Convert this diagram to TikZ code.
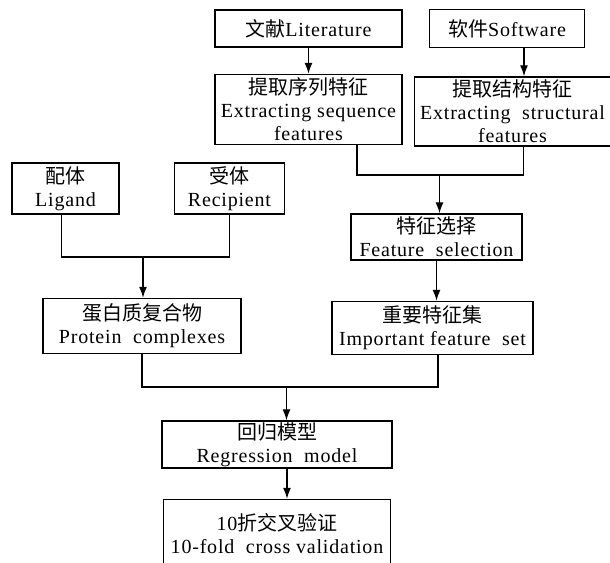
\documentclass[tikz,border=0pt]{standalone}
\usepackage{fontspec}
\setmainfont{Liberation Serif}[LetterSpace=4]
\newfontfamily\cjk{Noto Sans CJK SC}
\usetikzlibrary{positioning}
\usetikzlibrary{arrows.meta}

\begin{document}
\begin{tikzpicture}[x=1pt, y=-1pt, line width=1.2pt,
	>={Latex[length=11pt,width=8pt]},
	box/.style={draw, line width=1.5pt, align=center, inner sep=0pt, font=\fontsize{20}{23}\selectfont}]
	\useasboundingbox (0,0) rectangle (610,562);

	\node[box, minimum width=187pt, minimum height=37pt] (lit) at (308.5,28.5) {{\cjk 文献}Literature};
	\node[box, minimum width=155pt, minimum height=38pt] (soft) [right=26pt of lit] {{\cjk 软件}Software};
	\node[box, minimum width=187pt, minimum height=70pt] (seq) [below=26pt of lit] {{\cjk 提取序列特征}\\Extracting sequence\\features};
	\node[box, minimum width=196pt, minimum height=69pt] (struct) [below=28pt of soft, xshift=5.5pt] {{\cjk 提取结构特征}\\Extracting\ \ structural\\features};
	\node[box, minimum width=171pt, minimum height=46pt] (feat) at (436.5,237) {{\cjk 特征选择}\\Feature\ \ selection};
	\node[box, minimum width=201pt, minimum height=53pt] (imp) [below=40pt of feat, xshift=-4pt] {{\cjk 重要特征集}\\Important feature\ \ set};
	\node[box, minimum width=107pt, minimum height=51pt] (lig) at (65.5,188.5) {{\cjk 配体}\\Ligand};
	\node[box, minimum width=110pt, minimum height=51pt] (rec) [right=54pt of lig] {{\cjk 受体}\\Recipient};
	\node[box, minimum width=198pt, minimum height=55pt] (prot) at (142,326) {{\cjk 蛋白质复合物}\\Protein\ \ complexes};
	\node[box, minimum width=230pt, minimum height=47pt] (reg) at (277,444.5) {{\cjk 回归模型}\\Regression\ \ model};
	\node[box, minimum width=227pt, minimum height=69pt] (val) [below=30pt of reg] {10{\cjk 折交叉验证}\\10-fold\ \ cross validation};

	\coordinate (m1) at (439.5,175);
	\coordinate (m2) at (143,257);
	\coordinate (m3) at (286.5,387);

	\path [draw, ->] (lit) -- (seq);
	\path [draw, ->] ([xshift=17pt]soft.south) -- ([xshift=17pt]soft.south |- struct.north);
	\path [draw] ([xshift=48.5pt]seq.south) |- ([xshift=11pt]struct.south |- m1) -- ([xshift=11pt]struct.south);
	\path [draw, ->] (m1) -- (m1 |- feat.north);
	\path [draw, ->] (feat.south) -- (feat.south |- imp.north);
	\path [draw] ([xshift=-4pt]lig.south) |- (rec.south |- m2) -- (rec.south);
	\path [draw, ->] (m2) -- (m2 |- prot.north);
	\path [draw] (prot.south) |- ([xshift=5.5pt]imp.south |- m3) -- ([xshift=5.5pt]imp.south);
	\path [draw, ->] (m3) -- (m3 |- reg.north);
	\path [draw, ->] ([xshift=10pt]reg.south) -- ([xshift=10pt]reg.south |- val.north);
\end{tikzpicture}
\end{document}
